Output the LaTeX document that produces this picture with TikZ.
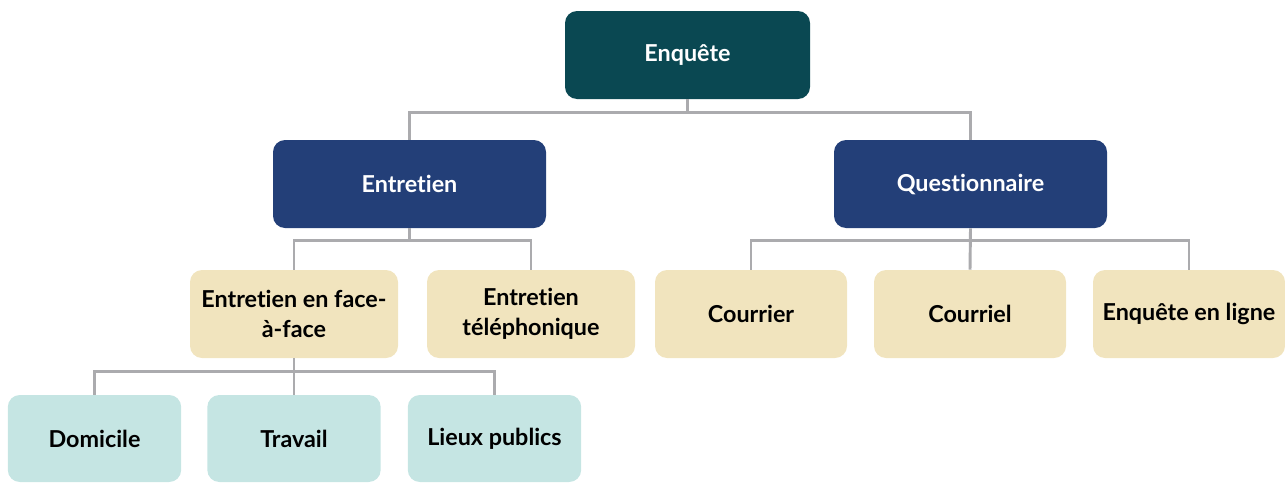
\documentclass[tikz,border=0pt]{standalone}
\usepackage{fontspec}
\setmainfont{Lato}[Ligatures={NoCommon}]
\definecolor{topc}{HTML}{0A4852}
\definecolor{midc}{HTML}{233F78}
\definecolor{beige}{HTML}{F1E4BE}
\definecolor{teal}{HTML}{C5E5E3}
\definecolor{linec}{HTML}{ABABAE}
\begin{document}
\begin{tikzpicture}[x=0.75pt,y=-0.75pt,
  box/.style={rounded corners=9pt, inner sep=0pt, align=center, font=\bfseries\fontsize{17.5}{22.5}\selectfont, minimum height=66pt},
  topbox/.style={box, fill=topc, text=white},
  midbox/.style={box, fill=midc, text=white, minimum width=204.75pt},
  leafbox/.style={box, fill=beige, text=black},
  lowbox/.style={box, fill=teal, text=black, minimum height=65.25pt, minimum width=130pt},
  conn/.style={draw=linec, line width=2.2pt}]
\useasboundingbox (0,0) rectangle (1285,482);
\node[topbox, minimum width=183.75pt] (top) at (687.5,55) {Enquête};
\node[midbox] (ent) at (409.5,184) {Entretien};
\node[midbox] (que) at (970.5,184) {Questionnaire};
\node[leafbox, minimum width=156pt] (f2f) at (294,314) {Entretien en face-\\à-face};
\node[leafbox, minimum width=156pt] (tel) at (531,314) {Entretien\\téléphonique};
\node[leafbox, minimum width=144pt] (cou) at (751,314) {Courrier};
\node[leafbox, minimum width=144pt] (crl) at (970,314) {Courriel};
\node[leafbox, minimum width=144pt] (eel) at (1189,314) {Enquête en ligne};
\node[lowbox] (dom) at (94.5,438.5) {Domicile};
\node[lowbox] (tra) at (294,438.5) {Travail};
\node[lowbox] (lie) at (494.5,438.5) {Lieux publics};
\draw[conn] (ent.north) -- ++(0,-27) -| (que.north);
\draw[conn] (top.south) -- ++(0,14);
\draw[conn] (f2f.north) -- ++(0,-29) -| (tel.north);
\draw[conn] (ent.south) -- ++(0,13);
\draw[conn] (cou.north) -- ++(0,-29) -| (eel.north);
\draw[conn] (que.south) -- (crl.north);
\draw[conn] (dom.north) -- ++(0,-23) -| (lie.north);
\draw[conn] (f2f.south) -- (tra.north);
\end{tikzpicture}
\end{document}
